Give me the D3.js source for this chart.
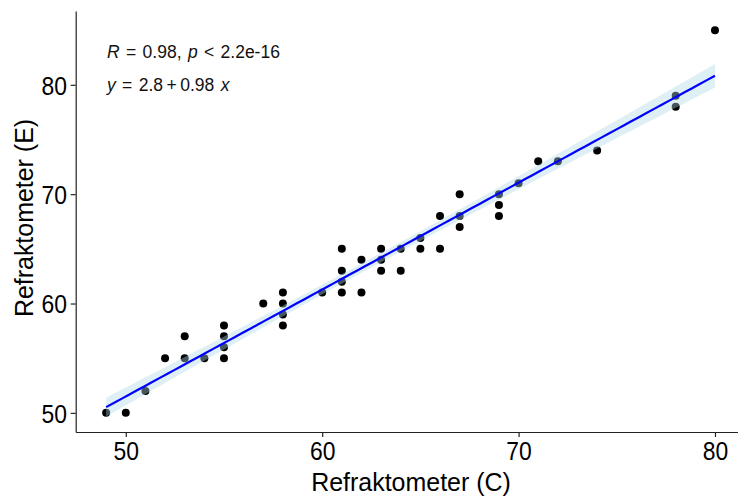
<!DOCTYPE html>
<html>
<head>
<meta charset="utf-8">
<script src="https://cdn.jsdelivr.net/npm/d3@7"></script>
<style>
  html, body { margin: 0; padding: 0; background: #fff; }
  svg { display: block; }
  text { font-family: "Liberation Sans", Arial, sans-serif; }
</style>
</head>
<body>
<svg id="chart" width="738" height="499"></svg>
<script>
// Paired readings: refractometer C (x) vs refractometer E (y)
const refC = [49,50,51,52,53,53,54,55,55,55,55,57,58,58,58,58,60,61,61,61,61,62,62,63,63,63,64,64,65,65,66,66,67,67,67,69,69,69,70,71,72,74,78,78,80];
const refE = [50,50,52,55,57,55,55,58,57,56,55,60,61,60,59,58,61,65,63,62,61,64,61,65,64,63,65,63,66,65,68,65,70,68,67,70,69,68,71,73,73,74,79,78,85];
const xTicks = [50, 60, 70, 80];
const yTicks = [50, 60, 70, 80];
const xTitle = "Refraktometer (C)";
const yTitle = "Refraktometer (E)";
const statLine = ["R", " = 0.98, ", "p", " < 2.2e-16"];
const eqLine = ["y", " = 2.8\u2009+\u20090.98 ", "x"];

const svg = d3.select("#chart");
const plotLeft = 75.7, plotBottom = 432, plotTop = 11;

// 5% padding around the data range on both axes
const xExt = d3.extent(refC), yExt = d3.extent(refE);
const xPad = (xExt[1] - xExt[0]) * 0.05, yPad = (yExt[1] - yExt[0]) * 0.05;
const x = d3.scaleLinear().domain([xExt[0] - xPad, xExt[1] + xPad]).range([plotLeft, plotLeft + 34.1 * 19.64]);
const y = d3.scaleLinear().domain([yExt[0] - yPad, yExt[1] + yPad]).range([plotBottom, plotTop]);

// Least-squares fit with 95% confidence band
const n = refC.length;
const mx = d3.mean(refC), my = d3.mean(refE);
let sxx = 0, sxy = 0;
for (let i = 0; i < n; i++) { sxx += (refC[i] - mx) ** 2; sxy += (refC[i] - mx) * (refE[i] - my); }
const b1 = sxy / sxx, b0 = my - b1 * mx;
let sse = 0;
for (let i = 0; i < n; i++) sse += (refE[i] - (b0 + b1 * refC[i])) ** 2;
const se = Math.sqrt(sse / (n - 2));
const tq = 2.0167; // t(0.975, df = 43)
const grid = d3.range(0, 81).map(k => xExt[0] + (xExt[1] - xExt[0]) * k / 80);
const fit = grid.map(gx => {
  const f = b0 + b1 * gx;
  const h = tq * se * Math.sqrt(1 / n + (gx - mx) ** 2 / sxx);
  return { x: gx, y: f, lo: f - h, hi: f + h };
});

// points
svg.append("g").selectAll("circle").data(refC).join("circle")
  .attr("cx", (d) => x(d))
  .attr("cy", (d, i) => y(refE[i]))
  .attr("r", 4)
  .attr("fill", "#000");

// confidence band
svg.append("path").datum(fit)
  .attr("d", d3.area().x(d => x(d.x)).y0(d => y(d.lo)).y1(d => y(d.hi)))
  .attr("fill", "#add8e6").attr("fill-opacity", 0.4);

// fitted line
svg.append("path").datum(fit)
  .attr("d", d3.line().x(d => x(d.x)).y(d => y(d.y)))
  .attr("fill", "none").attr("stroke", "#0000ff").attr("stroke-width", 2.2);

// axes
const xAxis = svg.append("g").attr("transform", `translate(0,${plotBottom})`)
  .call(d3.axisBottom(x).tickValues(xTicks).tickSize(5).tickPadding(5).tickSizeOuter(0));
const yAxis = svg.append("g").attr("transform", `translate(${plotLeft},0)`)
  .call(d3.axisLeft(y).tickValues(yTicks).tickSize(5).tickPadding(5).tickSizeOuter(0));
[xAxis, yAxis].forEach(g => {
  g.select(".domain").attr("stroke", "#222").attr("stroke-width", 1.2);
  g.selectAll(".tick line").attr("stroke", "#222").attr("stroke-width", 1.2);
  g.selectAll(".tick text").attr("fill", "#000").attr("font-size", 26)
    .attr("transform", "scale(0.88,1)")
    .attr("font-family", "'Liberation Sans', Arial, sans-serif");
});
yAxis.selectAll(".tick text").attr("dy", "0.36em");

// axis titles
svg.append("text").attr("transform", "translate(411,491) scale(0.96,1)").attr("text-anchor", "middle")
  .attr("font-size", 26).attr("fill", "#000").text(xTitle);
svg.append("text").attr("transform", "translate(33,218) rotate(-90) scale(0.96,1)").attr("text-anchor", "middle")
  .attr("font-size", 26).attr("fill", "#000").text(yTitle);

// fit statistics
function richText(parts, ty) {
  const t = svg.append("text").attr("x", 107).attr("y", ty).attr("font-size", 17.5)
    .attr("word-spacing", 1.5).attr("fill", "#111");
  parts.forEach((p, i) => t.append("tspan").attr("font-style", i % 2 === 0 ? "italic" : "normal").text(p));
}
richText(statLine, 58);
richText(eqLine, 91);
</script>
</body>
</html>
